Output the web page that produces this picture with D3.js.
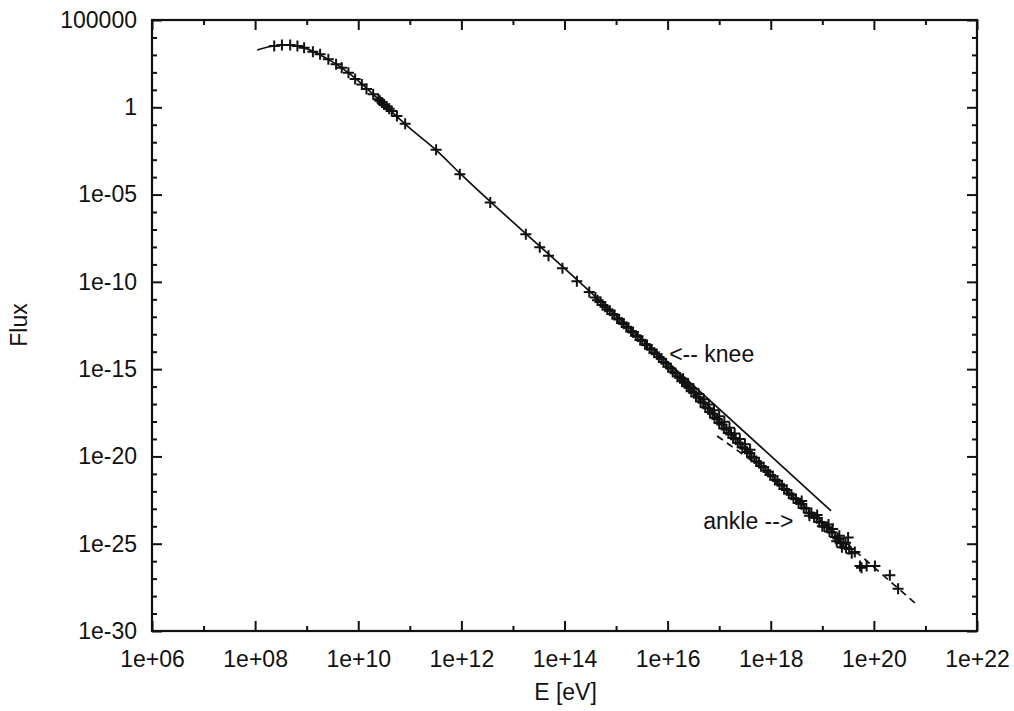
<!DOCTYPE html>
<html><head><meta charset="utf-8">
<script src="https://cdn.jsdelivr.net/npm/d3@7"></script>
<style>
body{margin:0;background:#fff;}
svg text{font-family:"Liberation Sans",Arial,Helvetica,sans-serif;fill:#111;}
</style></head><body>
<svg id="chart" width="1014" height="711"></svg>
<script>
// ---- tick definitions ----
const xMajorExps = [6, 8, 10, 12, 14, 16, 18, 20, 22];
const xTickLabels = ["1e+06","1e+08","1e+10","1e+12","1e+14","1e+16","1e+18","1e+20","1e+22"];
const xMinorExps = [7, 9, 11, 13, 15, 17, 19, 21];
const yMajorExps = [5, 0, -5, -10, -15, -20, -25, -30];
const yTickLabels = ["100000","1","1e-05","1e-10","1e-15","1e-20","1e-25","1e-30"];
const yMinorExps = [4,3,2,1,-1,-2,-3,-4,-6,-7,-8,-9,-11,-12,-13,-14,-16,-17,-18,-19,-21,-22,-23,-24,-26,-27,-28,-29];

// ---- model curve (solid), log10 values ----
const modelLogE    = [8.04, 8.30, 8.60, 8.90, 9.20, 9.50, 9.80, 10.10, 10.50, 11.00, 11.50, 12.00, 14.00, 16.00, 18.00, 19.17];
const modelLogFlux = [3.28, 3.48, 3.58, 3.45, 3.10, 2.60, 2.00, 1.26, 0.16, -1.20, -2.43, -3.86, -9.23, -14.60, -19.97, -23.12];

// ---- high-energy fit (dashed) ----
const fitLogE    = [16.96, 17.64, 20.86];
const fitLogFlux = [-18.83, -20.26, -28.56];

// ---- measured points (+), log10 E [eV] and log10 flux ----
const dataLogE = [
 8.37, 8.52, 8.68, 8.82, 8.95, 9.12, 9.26, 9.42, 9.57, 9.68, 9.81, 9.94, 10.07, 10.16, 10.29, 10.39, 10.42, 10.46, 10.50, 10.55, 10.60, 10.65, 10.75, 10.91,
 11.51, 11.97, 12.56, 13.25, 13.52, 13.69, 13.96, 14.24, 14.48,
 14.60, 14.64, 14.70, 14.74, 14.79, 14.83, 14.88, 14.93, 14.97, 15.02, 15.06, 15.11, 15.15, 15.20, 15.24, 15.29, 15.33, 15.38, 15.42, 15.47, 15.51,
 15.56, 15.60, 15.65, 15.69, 15.74, 15.79, 15.83, 15.88, 15.92, 15.97, 16.01, 16.06, 16.10, 16.15, 16.19, 16.24, 16.28, 16.33, 16.37, 16.42, 16.46,
 16.51, 16.55, 16.60, 16.64, 16.69, 16.73, 16.78, 16.82, 16.87, 16.91, 16.96, 17.00, 17.05, 17.09, 17.14, 17.18, 17.23, 17.27, 17.32, 17.36, 17.41,
 17.45, 17.50, 17.54, 17.59, 17.63, 17.68, 17.72, 17.77, 17.81, 17.86, 17.90, 17.95, 17.99, 18.04, 18.08, 18.13, 18.17, 18.22, 18.26, 18.31, 18.35,
 18.40, 18.44, 18.49, 18.54, 18.59, 18.64, 18.69, 18.74, 18.79, 18.84, 18.89, 18.94, 18.99, 19.04, 19.09, 19.14, 19.19, 19.25, 19.30, 19.35, 19.41,
 19.46, 19.52, 19.57, 19.63,
 16.30, 16.40, 16.50, 16.60, 16.70, 16.80, 16.90, 17.00, 17.10, 17.20, 17.30, 17.40, 17.50, 17.60,
 18.60, 18.75, 18.90, 19.00, 19.12, 19.20, 19.28, 19.38, 19.45, 19.50, 19.33,
 19.73, 19.76, 19.86, 20.02, 20.31, 20.47
];
const dataLogFlux = [
 3.51, 3.57, 3.57, 3.51, 3.41, 3.18, 3.04, 2.75, 2.46, 2.27, 1.98, 1.62, 1.30, 1.05, 0.74, 0.46, 0.38, 0.27, 0.16, 0.05, -0.08, -0.21, -0.50, -0.95,
 -2.43, -3.84, -5.45, -7.27, -8.02, -8.50, -9.22, -9.97, -10.58,
 -10.90, -11.05, -11.16, -11.32, -11.42, -11.58, -11.66, -11.84, -11.90, -12.10, -12.14, -12.33, -12.40, -12.58, -12.63, -12.83, -12.88, -13.07, -13.13, -13.33, -13.37,
 -13.57, -13.62, -13.82, -13.87, -14.06, -14.15, -14.31, -14.40, -14.59, -14.68, -14.86, -14.96, -15.15, -15.23, -15.41, -15.50, -15.70, -15.78, -15.98, -16.06, -16.26,
 -16.36, -16.56, -16.63, -16.86, -16.93, -17.18, -17.24, -17.46, -17.55, -17.78, -17.85, -18.08, -18.17, -18.40, -18.46, -18.66, -18.74, -18.95, -19.02, -19.22, -19.28,
 -19.48, -19.55, -19.74, -19.82, -20.02, -20.08, -20.28, -20.36, -20.55, -20.62, -20.81, -20.88, -21.07, -21.14, -21.34, -21.40, -21.60, -21.66, -21.87, -21.92, -22.13,
 -22.19, -22.40, -22.44, -22.67, -22.73, -22.95, -22.98, -23.23, -23.26, -23.48, -23.52, -23.75, -23.78, -24.02, -24.06, -24.30, -24.36, -24.62, -24.70, -24.98, -24.95,
 -25.25, -25.30, -25.55, -25.48,
 -15.55, -15.85, -16.12, -16.42, -16.72, -17.02, -17.36, -17.70, -18.02, -18.36, -18.68, -19.00, -19.30, -19.62,
 -22.55, -23.40, -23.35, -24.00, -23.90, -24.15, -24.86, -25.20, -24.95, -24.65, -24.55,
 -26.27, -26.37, -26.27, -26.27, -26.80, -27.58
];

// ---- annotations ----
const annotations = [
  {text: "<-- knee", logE: 16.03, logFlux: -14.13, anchor: "start"},
  {text: "ankle -->", logE: 16.69, logFlux: -23.72, anchor: "start"}
];

const L = 152, R = 977, T = 20, B = 631;
const svg = d3.select("#chart");

const x = d3.scaleLog().domain([1e6, 1e22]).range([L, R]);
const y = d3.scaleLog().domain([1e-30, 1e5]).range([B, T]);
const p10 = v => Math.pow(10, v);

const fontSize = 23;

function styleAxis(g) {
  g.select(".domain").remove();
  g.selectAll(".tick line").attr("stroke", "#111").attr("stroke-width", 2);
  g.selectAll(".tick text").attr("font-size", fontSize).attr("font-family", "'Liberation Sans', Arial, sans-serif").attr("fill", "#111");
}

// bottom axis
svg.append("g").attr("transform", `translate(0,${B})`)
  .call(d3.axisBottom(x).tickValues(xMajorExps.map(p10)).tickSize(-10).tickPadding(20)
        .tickFormat((d, i) => xTickLabels[i]))
  .call(styleAxis);
svg.append("g").attr("transform", `translate(0,${B})`)
  .call(d3.axisBottom(x).tickValues(xMinorExps.map(p10)).tickSize(-5).tickFormat(""))
  .call(styleAxis);
// top axis (mirror)
svg.append("g").attr("transform", `translate(0,${T})`)
  .call(d3.axisTop(x).tickValues(xMajorExps.map(p10)).tickSize(-10).tickFormat(""))
  .call(styleAxis);
svg.append("g").attr("transform", `translate(0,${T})`)
  .call(d3.axisTop(x).tickValues(xMinorExps.map(p10)).tickSize(-5).tickFormat(""))
  .call(styleAxis);
// left axis
svg.append("g").attr("transform", `translate(${L},0)`)
  .call(d3.axisLeft(y).tickValues(yMajorExps.map(p10)).tickSize(-10).tickPadding(15)
        .tickFormat((d, i) => yTickLabels[i]))
  .call(styleAxis);
svg.append("g").attr("transform", `translate(${L},0)`)
  .call(d3.axisLeft(y).tickValues(yMinorExps.map(p10)).tickSize(-5).tickFormat(""))
  .call(styleAxis);
// right axis (mirror)
svg.append("g").attr("transform", `translate(${R},0)`)
  .call(d3.axisRight(y).tickValues(yMajorExps.map(p10)).tickSize(-10).tickFormat(""))
  .call(styleAxis);
svg.append("g").attr("transform", `translate(${R},0)`)
  .call(d3.axisRight(y).tickValues(yMinorExps.map(p10)).tickSize(-5).tickFormat(""))
  .call(styleAxis);

// frame
svg.append("rect").attr("x", L).attr("y", T).attr("width", R - L).attr("height", B - T)
  .attr("fill", "none").attr("stroke", "#111").attr("stroke-width", 2.2);

// model line
const model = modelLogE.map((e, i) => [p10(e), p10(modelLogFlux[i])]);
svg.append("path").datum(model)
  .attr("d", d3.line().x(d => x(d[0])).y(d => y(d[1])).curve(d3.curveMonotoneX))
  .attr("fill", "none").attr("stroke", "#111").attr("stroke-width", 1.7);

// dashed fit
const fit = fitLogE.map((e, i) => [p10(e), p10(fitLogFlux[i])]);
svg.append("path").datum(fit)
  .attr("d", d3.line().x(d => x(d[0])).y(d => y(d[1])))
  .attr("fill", "none").attr("stroke", "#111").attr("stroke-width", 1.7)
  .attr("stroke-dasharray", "7,5");

// data points
const pts = dataLogE.map((e, i) => [p10(e), p10(dataLogFlux[i])]);
svg.append("g").selectAll("path").data(pts).join("path")
  .attr("transform", d => `translate(${x(d[0])},${y(d[1])})`)
  .attr("d", "M-5.5,0H5.5M0,-5.5V5.5")
  .attr("stroke", "#111").attr("stroke-width", 2).attr("fill", "none");

// annotations
svg.append("g").selectAll("text").data(annotations).join("text")
  .attr("x", d => x(p10(d.logE))).attr("y", d => y(p10(d.logFlux)))
  .attr("dy", "0.35em").attr("text-anchor", d => d.anchor)
  .attr("font-size", fontSize).text(d => d.text);

// axis titles
svg.append("text").attr("x", (L + R) / 2 + 1).attr("y", 692).attr("dy", "0.35em")
  .attr("text-anchor", "middle").attr("font-size", fontSize).text("E [eV]");
svg.append("text").attr("transform", "translate(19,325) rotate(-90)").attr("dy", "0.35em")
  .attr("text-anchor", "middle").attr("font-size", fontSize).text("Flux");
</script>
</body></html>
